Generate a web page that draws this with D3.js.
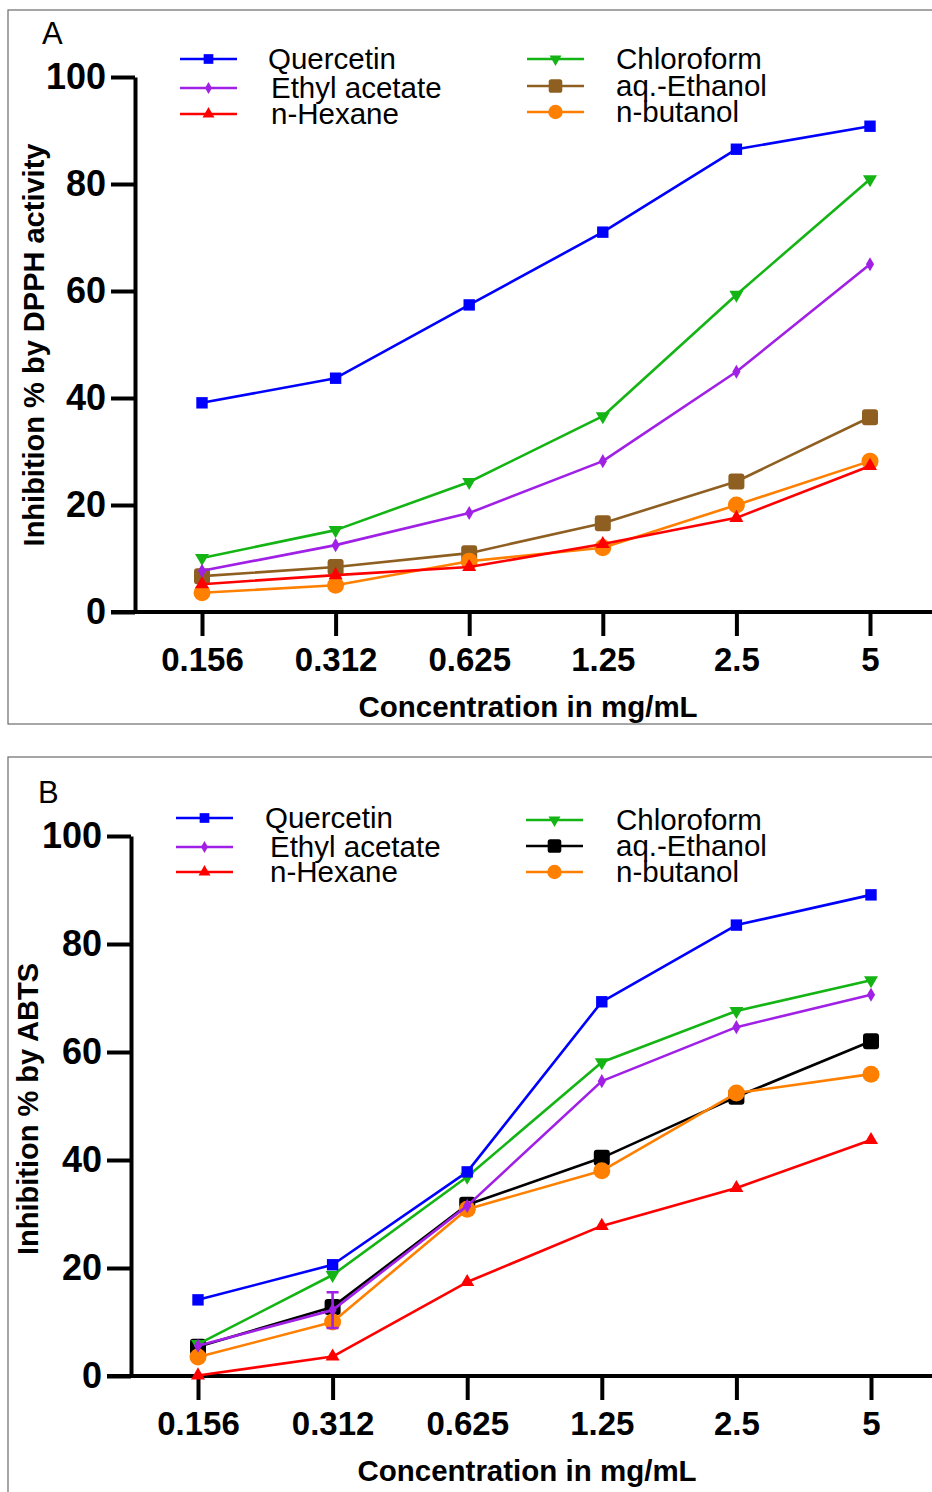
<!DOCTYPE html>
<html>
<head>
<meta charset="utf-8">
<script src="https://cdn.jsdelivr.net/npm/d3@7/dist/d3.min.js"></script>
<style>
  body { margin: 0; background: #fff; }
  svg text { font-family: "Liberation Sans", Arial, sans-serif; fill: #000; }
</style>
</head>
<body>
<div id="chart"></div>
<script>
// x categories (concentration, mg/mL)
const concentrations = ["0.156", "0.312", "0.625", "1.25", "2.5", "5"];
const yTicks = [0, 20, 40, 60, 80, 100];
const seriesNames = ["Quercetin", "Ethyl acetate", "n-Hexane", "Chloroform", "aq.-Ethanol", "n-butanol"];

// Panel A - DPPH
const quercetinA = [39.1, 43.7, 57.4, 71.0, 86.5, 90.8];
const ethylAcetateA = [7.7, 12.5, 18.5, 28.2, 44.9, 65.0];
const hexaneA = [5.2, 6.9, 8.4, 12.7, 17.6, 27.3];
const chloroformA = [10.1, 15.3, 24.3, 36.6, 59.3, 80.9];
const ethanolA = [6.7, 8.4, 11.0, 16.6, 24.4, 36.4];
const butanolA = [3.6, 5.0, 9.5, 12.0, 20.0, 28.2];

// Panel B - ABTS
const quercetinB = [14.1, 20.6, 37.8, 69.3, 83.5, 89.1];
const ethylAcetateB = [5.6, 12.2, 31.5, 54.6, 64.6, 70.6];
const hexaneB = [0.1, 3.6, 17.4, 27.8, 34.8, 43.7];
const chloroformB = [5.9, 18.7, 36.9, 58.1, 67.6, 73.3];
const ethanolB = [5.4, 12.8, 31.7, 40.4, 51.7, 62.0];
const butanolB = [3.5, 10.0, 30.9, 38.0, 52.4, 55.9];
const ethylAcetateErrB = [0, 3.3, 0, 0, 0, 0];

// styles per series
const styles = {
    "Quercetin": { color: "#0000ff", shape: "square" },
    "Ethyl acetate": { color: "#a020e6", shape: "diamond" },
    "n-Hexane": { color: "#ff0000", shape: "triangle" },
    "Chloroform": { color: "#14b414", shape: "triangleDown" },
    "aq.-Ethanol": { color: "#8e5f21", shape: "roundSquare" },
    "n-butanol": { color: "#ff8000", shape: "circle" }
};

const svg = d3.select("#chart")
    .append("svg")
    .attr("width", 932)
    .attr("height", 1492);

function drawMarker(g, shape, color, x, y, k) {
    k = k || 1;
    if (shape === "roundSquare") {
        const s = 16 * k;
        g.append("rect")
            .attr("x", x - s / 2).attr("y", y - s / 2)
            .attr("width", s).attr("height", s)
            .attr("rx", 3 * k)
            .attr("fill", color);
    } else if (shape === "circle") {
        g.append("circle")
            .attr("cx", x).attr("cy", y).attr("r", 8.5 * k)
            .attr("fill", color);
    } else {
        let sym = d3.symbolSquare, size = 130, rot = 0;
        if (shape === "diamond") { sym = d3.symbolDiamond; size = 58; }
        if (shape === "triangle") { sym = d3.symbolTriangle; size = 85; }
        if (shape === "triangleDown") { sym = d3.symbolTriangle; size = 85; rot = 180; }
        g.append("path")
            .attr("d", d3.symbol().type(sym).size(size * k * k)())
            .attr("transform", `translate(${x},${y}) rotate(${rot})`)
            .attr("fill", color);
    }
}

function drawPanel(p) {
    // frame
    svg.append("rect")
        .attr("x", p.frame[0]).attr("y", p.frame[1])
        .attr("width", p.frame[2]).attr("height", p.frame[3])
        .attr("fill", "none")
        .attr("stroke", "#6b6b6b")
        .attr("stroke-width", 1.2);

    svg.append("text")
        .attr("x", p.letterPos[0]).attr("y", p.letterPos[1])
        .style("font-size", "31px")
        .text(p.letter);

    const x = d3.scalePoint().domain(concentrations).range(p.xRange);
    const y = d3.scaleLinear().domain([0, 100]).range(p.yRange);

    // x axis line runs the full width
    svg.append("line")
        .attr("x1", p.xLineFrom).attr("x2", 945)
        .attr("y1", y(0)).attr("y2", y(0))
        .attr("stroke", "#000").attr("stroke-width", 4);

    const xAxis = svg.append("g")
        .attr("transform", `translate(0,${y(0)})`)
        .call(d3.axisBottom(x).tickSize(24).tickSizeOuter(0).tickPadding(12));
    xAxis.select(".domain").remove();
    xAxis.selectAll(".tick line").attr("stroke", "#000").attr("stroke-width", 4);
    xAxis.selectAll(".tick text")
        .style("font-size", "33px").style("font-weight", "bold")
        .attr("font-family", null);

    const yAxis = svg.append("g")
        .attr("transform", `translate(${p.yAxisX},0)`)
        .call(d3.axisLeft(y).tickValues(yTicks).tickSize(24).tickSizeOuter(0).tickPadding(5));
    yAxis.select(".domain").attr("stroke", "#000").attr("stroke-width", 4);
    yAxis.selectAll(".tick line").attr("stroke", "#000").attr("stroke-width", 4);
    yAxis.selectAll(".tick text")
        .style("font-size", "36px").style("font-weight", "bold")
        .attr("font-family", null);

    // axis titles
    svg.append("text")
        .attr("x", p.xTitle[0]).attr("y", p.xTitle[1])
        .attr("text-anchor", "middle")
        .style("font-size", "29.5px").style("font-weight", "bold")
        .text("Concentration in mg/mL");

    svg.append("text")
        .attr("transform", `translate(${p.yTitle[0]},${p.yTitle[1]}) rotate(-90)`)
        .attr("text-anchor", "middle")
        .attr("dy", "0.35em")
        .style("font-size", "29px").style("font-weight", "bold")
        .text(p.yLabel);

    const line = d3.line()
        .x((d, i) => x(concentrations[i]))
        .y(d => y(d));

    // draw order from back to front
    p.drawOrder.forEach(name => {
        const values = p.data[name];
        const st = styles[name];
        const g = svg.append("g");
        g.append("path")
            .datum(values)
            .attr("fill", "none")
            .attr("stroke", st.color)
            .attr("stroke-width", 2.6)
            .attr("stroke-linejoin", "round")
            .attr("d", line);
        const err = p.errors[name];
        if (err) {
            values.forEach((v, i) => {
                if (!err[i]) return;
                const cx = x(concentrations[i]);
                g.append("path")
                    .attr("d", `M${cx - 6},${y(v + err[i])}H${cx + 6}M${cx},${y(v + err[i])}V${y(v - err[i])}M${cx - 6},${y(v - err[i])}H${cx + 6}`)
                    .attr("fill", "none")
                    .attr("stroke", st.color)
                    .attr("stroke-width", 2.6);
            });
        }
        values.forEach((v, i) => {
            drawMarker(g, st.shape, st.color, x(concentrations[i]), y(v), 1);
        });
    });

    // legend, two columns of three
    const lg = svg.append("g");
    seriesNames.forEach((name, i) => {
        const col = i < 3 ? 0 : 1;
        const row = i % 3;
        const st = styles[name];
        const lx = p.legend.lineX[col];
        const ly = p.legend.rows[col][row];
        const color = name === "aq.-Ethanol" ? p.ethanolColor : st.color;
        lg.append("line")
            .attr("x1", lx).attr("x2", lx + 57)
            .attr("y1", ly).attr("y2", ly)
            .attr("stroke", color).attr("stroke-width", 2.6);
        drawMarker(lg, st.shape, color, lx + 28.5, ly, 0.85);
        lg.append("text")
            .attr("x", p.legend.textX[col][row]).attr("y", ly)
            .attr("dy", "0.35em")
            .style("font-size", "29.5px")
            .text(name);
    });
}

drawPanel({
    letter: "A",
    letterPos: [42, 44],
    frame: [8, 10, 940, 714],
    xRange: [202, 870],
    yRange: [612, 77],
    yAxisX: 135,
    xLineFrom: 111,
    xTitle: [528, 717],
    yTitle: [34, 345],
    yLabel: "Inhibition % by DPPH activity",
    data: {
        "Quercetin": quercetinA, "Ethyl acetate": ethylAcetateA, "n-Hexane": hexaneA,
        "Chloroform": chloroformA, "aq.-Ethanol": ethanolA, "n-butanol": butanolA
    },
    errors: {},
    ethanolColor: "#8e5f21",
    drawOrder: ["aq.-Ethanol", "n-butanol", "Chloroform", "n-Hexane", "Ethyl acetate", "Quercetin"],
    legend: {
        lineX: [180, 527],
        rows: [[59, 88, 114], [59, 86, 112]],
        textX: [[268, 271, 271], [616, 616, 616]]
    }
});

styles["aq.-Ethanol"].color = "#000000";

drawPanel({
    letter: "B",
    letterPos: [38, 803],
    frame: [8, 757, 940, 760],
    xRange: [198, 871],
    yRange: [1376, 836],
    yAxisX: 131,
    xLineFrom: 107,
    xTitle: [527, 1481],
    yTitle: [28, 1109],
    yLabel: "Inhibition % by ABTS",
    data: {
        "Quercetin": quercetinB, "Ethyl acetate": ethylAcetateB, "n-Hexane": hexaneB,
        "Chloroform": chloroformB, "aq.-Ethanol": ethanolB, "n-butanol": butanolB
    },
    errors: { "Ethyl acetate": ethylAcetateErrB },
    ethanolColor: "#000000",
    drawOrder: ["aq.-Ethanol", "n-butanol", "Chloroform", "n-Hexane", "Ethyl acetate", "Quercetin"],
    legend: {
        lineX: [176, 526],
        rows: [[818, 847, 872], [820, 846, 872]],
        textX: [[265, 270, 270], [616, 616, 616]]
    }
});
</script>
</body>
</html>
